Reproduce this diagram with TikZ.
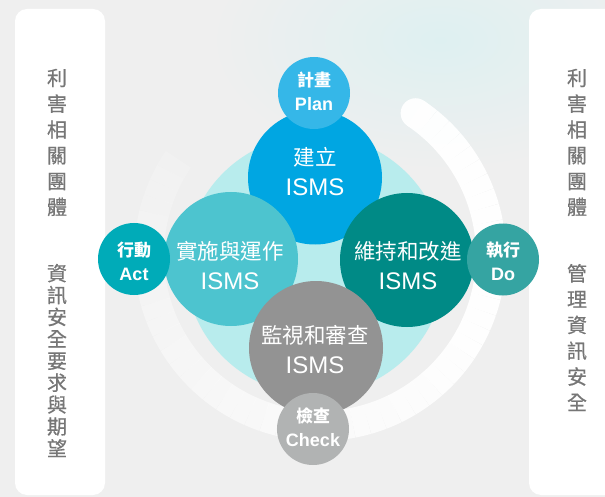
\documentclass[tikz,border=0pt]{standalone}
\usepackage{fontspec}
\setmainfont{Liberation Sans}
\newfontfamily\cjk{Noto Sans CJK TC}
\newfontfamily\cjkside[FakeBold=0.5]{Noto Sans CJK TC}
\definecolor{bg}{RGB}{239,239,239}
\definecolor{tint}{RGB}{222,240,241}
\definecolor{halo}{RGB}{184,236,237}
\definecolor{planc}{RGB}{53,183,232}
\definecolor{buildc}{RGB}{0,166,226}
\definecolor{implc}{RGB}{77,196,207}
\definecolor{maintc}{RGB}{0,138,134}
\definecolor{monc}{RGB}{147,147,147}
\definecolor{checkc}{RGB}{177,179,179}
\definecolor{actc}{RGB}{0,171,184}
\definecolor{doc}{RGB}{53,164,162}
\definecolor{sidegrey}{RGB}{118,118,118}
\begin{document}
\begin{tikzpicture}[x=1pt,y=-1pt,
  bigdisc/.style={circle, inner sep=0pt, minimum size=134pt},
  smalldisc/.style={circle, inner sep=0pt, minimum size=72pt},
  bigtext/.style={text=white, align=center, inner sep=0pt,
    font=\fontsize{24}{30}\selectfont},
  smalltext/.style={text=white, align=center, inner sep=0pt,
    font=\bfseries\fontsize{18}{24}\selectfont},
  sidetext/.style={text=sidegrey, align=center, inner sep=0pt,
    font=\cjkside\fontsize{20}{#1}\selectfont},
  panel/.style={fill=white, rounded corners=12pt}
]
\clip (0,0) rectangle (605,497);
% paper background with a pale wash towards the top right
\fill[bg] (0,0) rectangle (605,497);
\shade[inner color=tint, outer color=bg] (440,40) ellipse [x radius=230, y radius=130];

% side panels
\fill[panel] (15,9) rectangle (105,495);
\fill[panel] (529,9) rectangle (640,495);

\node[sidetext=25.8] (lstake) at (57,142.5) {利\\害\\相\\關\\團\\體};
\node[sidetext=21.9] (lneeds) at (57,360.5) {資\\訊\\安\\全\\要\\求\\與\\期\\望};
\node[sidetext=25.8] (rstake) at (577,142.5) {利\\害\\相\\關\\團\\體};
\node[sidetext=25.8] (rmanage) at (577,337.5) {管\\理\\資\\訊\\安\\全};

% halo behind the cycle
\node[circle, inner sep=0pt, minimum size=260pt, fill=halo] (halo) at (315,265) {};

% white ring, fading as it sweeps round to the left
\coordinate (ringc) at (320,255);
\fill[white, opacity=0.95] (ringc) ++(-56:171) circle[radius=15];
\foreach \i in {0,...,53} {
  \pgfmathsetmacro\a{-56+5*\i}
  \pgfmathsetmacro\op{\a<=30 ? 0.95 : 0.95-0.8*(\a-30)/184}
  \draw[white, line width=30pt, opacity=\op] (ringc) ++(\a:171)
    arc[start angle=\a, end angle=\a+5, radius=171];
}

% the four ISMS stages
\node[bigdisc, fill=buildc] (build) at (315,177.5) {};
\node[bigdisc, fill=implc] (impl) at (231,259) {};
\node[bigdisc, fill=maintc] (maint) at (407,260) {};
\node[bigdisc, fill=monc] (mon) at (316,348) {};

\node[bigtext] (buildt) at (315,172) {{\cjk\fontsize{21.5}{30}\selectfont 建立}\\ISMS};
\node[bigtext] (implt) at (230,266) {{\cjk\fontsize{21.5}{30}\selectfont 實施與運作}\\ISMS};
\node[bigtext] (maintt) at (408,266) {{\cjk\fontsize{21.5}{30}\selectfont 維持和改進}\\ISMS};
\node[bigtext] (mont) at (315,349.5) {{\cjk\fontsize{21.5}{30}\selectfont 監視和審查}\\ISMS};

% PDCA tags
\node[smalldisc, fill=planc] (plan) at (314,93) {};
\node[smalldisc, fill=actc] (act) at (134,259) {};
\node[smalldisc, fill=doc] (do) at (503,259.5) {};
\node[smalldisc, fill=checkc] (check) at (313,429) {};

\node[smalltext] (plant) at (314,91.5) {{\cjk\bfseries\fontsize{17}{24}\selectfont 計畫}\\Plan};
\node[smalltext] (actt) at (134,261.5) {{\cjk\bfseries\fontsize{17}{24}\selectfont 行動}\\Act};
\node[smalltext] (dot) at (503,261.5) {{\cjk\bfseries\fontsize{17}{24}\selectfont 執行}\\Do};
\node[smalltext] (checkt) at (313,427.5) {{\cjk\bfseries\fontsize{17}{25}\selectfont 檢查}\\Check};
\end{tikzpicture}
\end{document}
